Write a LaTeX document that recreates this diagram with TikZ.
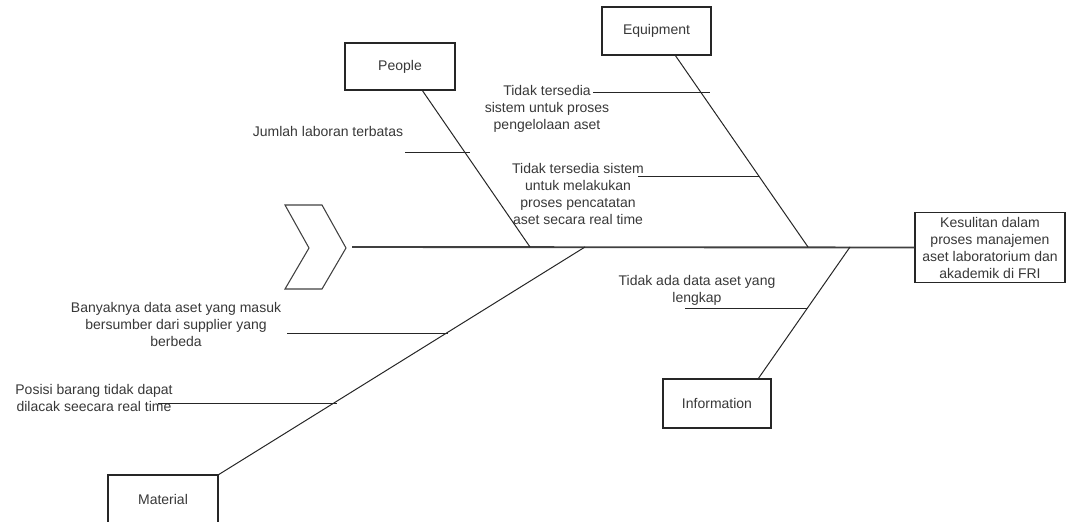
\documentclass[tikz,border=0pt]{standalone}
\usepackage{fontspec}
\setmainfont{Liberation Sans}
\begin{document}
\begin{tikzpicture}[x=0.75pt,y=-0.75pt,
  every node/.style={font=\fontsize{10.5pt}{12.75pt}\selectfont, text=black!78},
  catbox/.style={draw=black!85, line width=1pt, fill=white, minimum width=#1, inner sep=0pt},
  catbox/.default={109pt},
  lbl/.style={align=center, inner sep=0pt},
  bone/.style={draw=black!85, line width=0.75pt},
  spine/.style={draw=black!75, line width=1.4pt},
  sub/.style={draw=black!85, line width=0.75pt}]
\useasboundingbox (0,0) rectangle (1070,521);
\clip (0,0) rectangle (1070,521);
% head / effect
\node[draw=black!85, line width=0.8pt, fill=white, minimum width=112.5pt, minimum height=53pt, align=center, inner sep=0pt] (effect) at (990,247.5) {Kesulitan dalam\\proses manajemen\\aset laboratorium dan\\akademik di FRI};
% tail chevron
\draw[draw=black!75, line width=0.8pt] (285,205) -- (322,205) -- (346,248) -- (322,289) -- (285,289) -- (309,248) -- cycle;
\coordinate (tail) at (352,247);
% category boxes
\node[catbox, minimum width=81.75pt, minimum height=36pt] (equip) at (656.5,31) {Equipment};
\node[catbox, minimum width=82.5pt, minimum height=35.25pt] (people) at (400,66.5) {People};
\node[catbox, minimum width=81pt, minimum height=36.75pt] (info) at (717,403.5) {Information};
\node[catbox, minimum width=82.5pt, minimum height=36pt] (material) at (163,499) {Material};
% spine
\draw[spine] (tail) -- (effect.west);
% bone junctions
\coordinate (jE) at (808,247);
\coordinate (jP) at (530,247);
\coordinate (jI) at (850,247);
\coordinate (jM) at (585,247);
\coordinate (sE) at (675,55);
\coordinate (sP) at (422,90);
\coordinate (sI) at (758,379);
\coordinate (sM) at (218,475);
\draw[bone] (sE) -- (jE);
\draw[bone] (sP) -- (jP);
\draw[bone] (sI) -- (jI);
\draw[bone] (sM) -- (jM);
% cause labels
\node[lbl] (e1) at (547,109) {Tidak tersedia\\sistem untuk proses\\pengelolaan aset};
\node[lbl] (e2) at (578,194) {Tidak tersedia sistem\\untuk melakukan\\proses pencatatan\\aset secara real time};
\node[lbl] (p1) at (328,131) {Jumlah laboran terbatas};
\node[lbl] (i1) at (697,290) {Tidak ada data aset yang\\lengkap};
\node[lbl] (m1) at (176,324) {Banyaknya data aset yang masuk\\bersumber dari supplier yang\\berbeda};
\node[lbl] (m2) at (94,398) {Posisi barang tidak dapat\\dilacak seecara real time};
% cause lines
\coordinate (e1a) at (593,92);   \coordinate (e1b) at (710,92);
\coordinate (e2a) at (638,176);  \coordinate (e2b) at (759,176);
\coordinate (p1a) at (405,152);  \coordinate (p1b) at (470,152);
\coordinate (i1a) at (685,308);  \coordinate (i1b) at (807,308);
\coordinate (m1a) at (287,333);  \coordinate (m1b) at (448,333);
\coordinate (m2a) at (158,403);  \coordinate (m2b) at (337,403);
\draw[sub] (e1a) -- (e1b);
\draw[sub] (e2a) -- (e2b);
\draw[sub] (p1a) -- (p1b);
\draw[sub] (i1a) -- (i1b);
\draw[sub] (m1a) -- (m1b);
\draw[sub] (m2a) -- (m2b);
\end{tikzpicture}
\end{document}
